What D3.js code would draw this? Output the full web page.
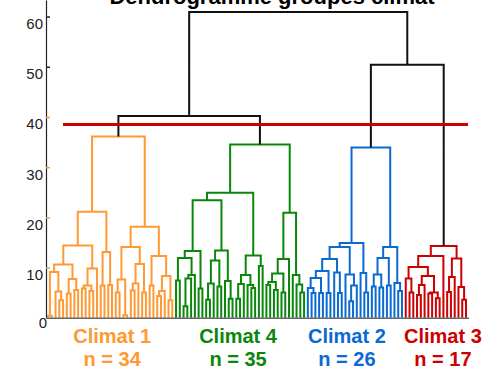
<!DOCTYPE html>
<html>
<head>
<meta charset="utf-8">
<script src="https://cdnjs.cloudflare.com/ajax/libs/d3/7.8.5/d3.min.js"></script>
<style>
	body { margin: 0; background: #fff; }
	svg { display: block; font-family: 'Liberation Sans', Arial, sans-serif; }
</style>
</head>
<body>
<div id="graph"></div>
<script>
const L = 0

// merge heights, nested as [height, left, right], a leaf is 0
const climat1 = [36.1,
	[21.1,
		[14.4,
			[10.6,
				[9.1, [0.4, L, L], [5.2, L, [3.5, L, L]]],
				[7.7, [4.8, L, L], [5.5, L, L]]],
			[9.8, [6.4, [5.8, L, L], [5.3, L, L]], L]],
		[13.1, [6.4, L, L], [6.5, L, L]]],
	[18.1,
		[14.1,
			[7.6, [5.0, L, L], [0.5, L, L]],
			[10.7, [6.8, [5.4, L, L], L], [5.0, L, L]]],
		[12.3, [6.4, L, L], [8.3, [5.3, [4.3, L, L], L], [3.5, L, L]]]]]

const climat4 = [34.5,
	[24.9,
		[23.4,
			[13.3,
				[11.9, [7.4, L, L], [8.5, [7.8, [2.3, L, L], L], L]],
				[5.8, L, L]],
			[13.4,
				[11.4, [6.8, [3.6, L, L], L], [6.2, L, L]],
				[7.3, L, [3.8, L, L]]]],
		[12.4,
			[8.5, [6.7, [3.8, L, L], L], [6.5, L, [5.9, L, L]]],
			[10.3, L, L]]],
	[20.9,
		[11.7, [8.8, [7.1, [6.5, L, L], [5.5, L, L]], [5.0, L, L]], L],
		[8.5, L, [6.6, L, [5.0, L, L]]]]]

const climat2 = [33.9,
	[14.9,
		[14.1,
			[11.7,
				[9.3, [7.9, [5.9, L, [4.9, L, L]], [4.9, L, L]], [4.9, L, L]],
				[9.0, L, [4.9, L, L]]],
			[8.6, L, [6.4, [3.3, L, L], L]]],
		[8.9, L, [5.0, L, L]]],
	[14.1,
		[11.9, [8.6, [6.2, L, L], [6.0, L, L]], [6.4, L, L]],
		[6.9, L, [5.3, L, L]]]]

const climat3 = [14.3,
	[12.3,
		[10.1,
			[7.8, L, [5.0, L, L]],
			[8.3, [6.5, [4.5, L, L], L], [5.0, [4.8, L, L], [3.9, L, L]]]],
		L],
	[11.8,
		[8.1, [5.1, L, L], L],
		[6.1, L, [3.6, L, L]]]]

const topHeights = [60.9, 40.2, 50.4]
const cutHeight = 38.5
const clusterNames = ['Climat 1', 'Climat 4', 'Climat 2', 'Climat 3']
const clusterColors = ['#ff9933', '#0a870a', '#0a6ad2', '#cc0000']
const yTicks = [0, 10, 20, 30, 40, 50, 60]

const clusters = [climat1, climat4, climat2, climat3]
	, tree = [topHeights[0], [topHeights[1], climat1, climat4], [topHeights[2], climat2, climat3]]

let width = 496
	, height = 374
	, axisX = 46
	, labelShift = [2, -2, -8, 7]
	, root = d3.hierarchy(tree, d => Array.isArray(d) ? d.slice(1) : null)
	, leaves = root.leaves()
	, x = d3.scaleLinear()
		.domain([0, leaves.length - 1])
		.range([48, 466])
	, y = d3.scaleLinear()
		.domain([0, 63.3])
		.range([317.7, 0])

// leaves evenly spaced, every merge in the middle of its two children
leaves.forEach((d, i) => d.x = x(i))
root.eachAfter(d => {
	d.h = Array.isArray(d.data) ? d.data[0] : 0
	if (d.children) d.x = (d.children[0].x + d.children[1].x) / 2
})
root.each(d => {
	let k = clusters.indexOf(d.data)
	if (k >= 0) d.descendants().forEach(n => n.cluster = k)
})

const svg = d3.select('#graph')
	.append('svg')
	  .attr('width', width)
	  .attr('height', height)

// title, mostly cut by the top edge like in the original
svg.append('text')
	.attr('x', 272)
	.attr('y', 3.5)
	.attr('text-anchor', 'middle')
	.style('font-size', '22px')
	.style('font-weight', 'bold')
	.text('Dendrogramme groupes climat')

const yAxis = svg.append('g')
	.attr('transform', 'translate(' + axisX + ',0)')
	.call(d3.axisLeft(y).tickValues(yTicks).tickSize(-4).tickSizeOuter(0).tickPadding(3))

yAxis.select('.domain').attr('stroke', '#222').attr('stroke-width', 1.2)
yAxis.selectAll('.tick line')
	.attr('stroke', d => d > 0 && d <= 40 ? clusterColors[0] : '#222')
	.attr('stroke-width', 1.5)
	.attr('opacity', d => d === 0 ? 0 : 1)
yAxis.selectAll('.tick text')
	.attr('x', d => d === 0 ? 1 : -3)
	.attr('dy', d => d === 0 ? '0.62em' : '0.8em')
	.attr('fill', '#222')
	.style('font-size', '15px')
	.style('font-family', "'Liberation Sans', Arial, sans-serif")

// elbow links, one path per merge
const nodes = root.descendants().filter(d => d.children)

svg.append('g')
	.attr('fill', 'none')
	.attr('stroke-width', 2)
  .selectAll('path')
  .data(nodes.sort((a, b) => (a.cluster === undefined) - (b.cluster === undefined)))
  .join('path')
	.attr('stroke', d => d.cluster === undefined ? '#111' : clusterColors[d.cluster])
	.attr('d', d => {
		let a = d.children[0], b = d.children[1]
		return 'M' + a.x + ',' + y(a.h) + 'V' + y(d.h) + 'H' + b.x + 'V' + y(b.h)
	})

// baseline
svg.append('line')
	.attr('x1', axisX)
	.attr('x2', 469)
	.attr('y1', y(0) + 0.5)
	.attr('y2', y(0) + 0.5)
	.attr('stroke', '#666')
	.attr('stroke-width', 1.6)

// cut line
svg.append('line')
	.attr('x1', 63)
	.attr('x2', 468)
	.attr('y1', y(cutHeight))
	.attr('y2', y(cutHeight))
	.attr('stroke', '#cc0000')
	.attr('stroke-width', 3)

// cluster labels
const labels = svg.append('g')
	.attr('text-anchor', 'middle')
	.style('font-size', '20px')
	.style('font-weight', 'bold')
  .selectAll('g')
  .data(clusters)
  .join('g')
	.attr('fill', (d, k) => clusterColors[k])
	.attr('transform', (d, k) => {
		let own = leaves.filter(n => n.cluster === k)
		return 'translate(' + ((own[0].x + own[own.length - 1].x) / 2 + labelShift[k]) + ',0)'
	})

labels.append('text')
	.attr('y', 343)
	.text((d, k) => clusterNames[k])

labels.append('text')
	.attr('y', 366)
	.text((d, k) => 'n = ' + leaves.filter(n => n.cluster === k).length)
</script>
</body>
</html>
